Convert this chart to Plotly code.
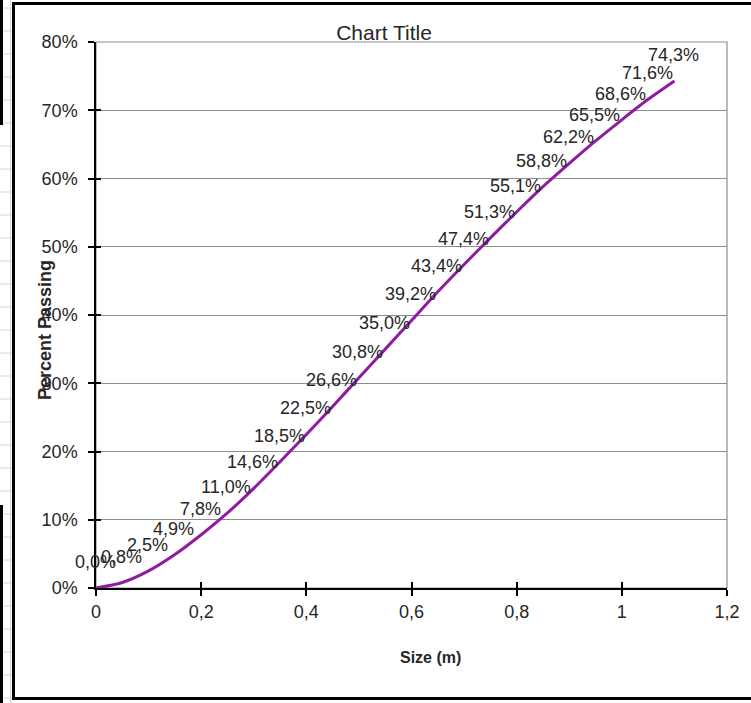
import plotly.graph_objects as go

# Particle size distribution: cumulative percent passing vs. size
size_m = [0.00, 0.05, 0.10, 0.15, 0.20, 0.25, 0.30, 0.35, 0.40, 0.45, 0.50, 0.55,
          0.60, 0.65, 0.70, 0.75, 0.80, 0.85, 0.90, 0.95, 1.00, 1.05, 1.10]
percent_passing = [0.0, 0.8, 2.5, 4.9, 7.8, 11.0, 14.6, 18.5, 22.5, 26.6, 30.8, 35.0,
                   39.2, 43.4, 47.4, 51.3, 55.1, 58.8, 62.2, 65.5, 68.6, 71.6, 74.3]

x_tick_vals = [0, 0.2, 0.4, 0.6, 0.8, 1.0, 1.2]
x_tick_text = ["0", "0,2", "0,4", "0,6", "0,8", "1", "1,2"]
y_tick_vals = [0, 10, 20, 30, 40, 50, 60, 70, 80]
y_tick_text = ["0%", "10%", "20%", "30%", "40%", "50%", "60%", "70%", "80%"]

W, H = 751, 703
ML, MR, MT, MB = 96, 24, 42, 115
PW, PH = W - ML - MR, H - MT - MB


def px_x(p):
    return (p - ML) / PW


def px_y(p):
    return 1 - (p - MT) / PH


FONT = "Liberation Sans, Arial, sans-serif"
TXT = "#262626"
GRID = "#8c8c8c"
LINE = "#8f1c9f"

fig = go.Figure()
fig.add_trace(go.Scatter(
    x=size_m, y=percent_passing, mode="lines",
    line=dict(color=LINE, width=3, shape="spline", smoothing=0.8),
    hoverinfo="skip", showlegend=False,
))
# invisible trace so the overlay axes (for crossing tick marks) exist
fig.add_trace(go.Scatter(x=[None], y=[None], xaxis="x2", yaxis="y2",
                         showlegend=False, hoverinfo="skip"))

# data labels above each point
for xv, yv in zip(size_m, percent_passing):
    fig.add_annotation(
        x=xv, y=yv, text=f"{yv:.1f}%".replace(".", ","),
        showarrow=False, yshift=26, xshift=-1,
        font=dict(family=FONT, size=18, color=TXT),
    )

shapes = []
# plot-area outline (top/right)
shapes.append(dict(type="rect", xref="paper", yref="paper", x0=0, x1=1, y0=0, y1=1,
                   line=dict(color=GRID, width=1.2), layer="below"))
# chart frame
shapes.append(dict(type="rect", xref="paper", yref="paper",
                   x0=px_x(13.5), x1=px_x(760), y0=px_y(698.5), y1=px_y(3.5),
                   line=dict(color="black", width=3)))
# worksheet cells visible at the left edge
shapes.append(dict(type="line", xref="paper", yref="paper",
                   x0=px_x(10.5), x1=px_x(10.5), y0=px_y(0), y1=px_y(703),
                   line=dict(color="#d6d6d6", width=1)))
for row in range(8, 703, 23):
    shapes.append(dict(type="line", xref="paper", yref="paper",
                       x0=px_x(0), x1=px_x(12), y0=px_y(row), y1=px_y(row),
                       line=dict(color="#d6d6d6", width=1)))
for y0, y1 in [(0, 125), (505, 703)]:
    shapes.append(dict(type="line", xref="paper", yref="paper",
                       x0=px_x(1.5), x1=px_x(1.5), y0=px_y(y0), y1=px_y(y1),
                       line=dict(color="black", width=3)))

annotations_extra = [
    dict(text="Percent Passing", xref="paper", yref="paper", x=px_x(45), y=px_y(330),
         xanchor="center", yanchor="middle", textangle=-90, showarrow=False,
         font=dict(family=FONT, size=18, color=TXT, weight="bold")),
    dict(text="Size (m)", xref="paper", yref="paper", x=px_x(430), y=px_y(657),
         xanchor="center", yanchor="middle", showarrow=False,
         font=dict(family=FONT, size=16, color=TXT, weight="bold")),
]
for a in annotations_extra:
    fig.add_annotation(**a)

fig.update_layout(
    width=W, height=H,
    margin=dict(l=ML, r=MR, t=MT, b=MB, pad=0),
    paper_bgcolor="white", plot_bgcolor="white",
    title=dict(text="Chart Title", x=px_x(384), xref="paper", xanchor="center",
               y=1 - 33 / H, yref="container", yanchor="middle",
               font=dict(family=FONT, size=21, color=TXT)),
    xaxis=dict(range=[0, 1.2], tickvals=x_tick_vals, ticktext=x_tick_text,
               showgrid=False, zeroline=False, showline=True, linecolor="black",
               linewidth=1.5, ticks="outside", ticklen=6, tickcolor="black",
               tickwidth=1.5, ticklabelstandoff=1,
               tickfont=dict(family=FONT, size=18, color=TXT)),
    yaxis=dict(range=[0, 80], tickvals=y_tick_vals, ticktext=y_tick_text,
               showgrid=True, gridcolor=GRID, gridwidth=1.2, zeroline=False,
               showline=True, linecolor="black", linewidth=1.5,
               ticks="outside", ticklen=6, tickcolor="black", tickwidth=1.5,
               ticklabelstandoff=7,
               tickfont=dict(family=FONT, size=18, color=TXT)),
    xaxis2=dict(overlaying="x", matches="x", side="bottom", anchor="y2",
                tickvals=x_tick_vals, showticklabels=False, showgrid=False,
                zeroline=False, ticks="inside", ticklen=6, tickcolor="black",
                tickwidth=1.5),
    yaxis2=dict(overlaying="y", matches="y", side="left", anchor="x2",
                tickvals=y_tick_vals, showticklabels=False, showgrid=False,
                zeroline=False, ticks="inside", ticklen=5, tickcolor="black",
                tickwidth=1.5),
    shapes=shapes,
)

fig.write_html("out.html")
